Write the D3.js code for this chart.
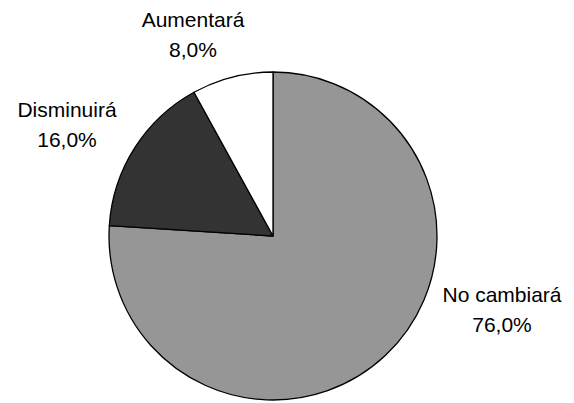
<!DOCTYPE html>
<html>
<head>
<meta charset="utf-8">
<script src="https://cdn.jsdelivr.net/npm/d3@7"></script>
<style>
    body { margin: 0; background: #fff; }
    text { font-family: "Liberation Sans", Arial, sans-serif; font-size: 21px; fill: #000; }
</style>
</head>
<body>
<div id="chart"></div>
<script>
// Chart data
const categories = ["No cambiará", "Disminuirá", "Aumentará"];
const values = [76.0, 16.0, 8.0];
const sliceColors = ["#969696", "#333333", "#ffffff"];
// Label anchor: centre x and baseline of the first line
const labelPos = [[502, 302], [67, 117], [193, 27]];

const width = 574, height = 403;
const cx = 273, cy = 236, radius = 164;
const lineGap = 30;

const svg = d3.select('#chart').append('svg')
    .attr('width', width)
    .attr('height', height);

const pie = d3.pie().sort(null).value(d => d.value);
const arc = d3.arc().innerRadius(0).outerRadius(radius);

const data = categories.map((c, i) => ({ name: c, value: values[i], color: sliceColors[i], pos: labelPos[i] }));

const g = svg.append('g').attr('transform', `translate(${cx},${cy})`);

g.selectAll('path')
    .data(pie(data))
    .enter()
    .append('path')
    .attr('d', arc)
    .attr('fill', d => d.data.color)
    .attr('stroke', '#000')
    .attr('stroke-width', 1.3)
    .attr('stroke-linejoin', 'round');

// Labels: name on first line, percentage below
const fmt = v => v.toFixed(1).replace('.', ',') + '%';

const labels = svg.selectAll('text.lbl')
    .data(data)
    .enter()
    .append('text')
    .attr('class', 'lbl')
    .attr('text-anchor', 'middle');

labels.append('tspan')
    .attr('x', d => d.pos[0])
    .attr('y', d => d.pos[1])
    .text(d => d.name);

labels.append('tspan')
    .attr('x', d => d.pos[0])
    .attr('y', d => d.pos[1] + lineGap)
    .text(d => fmt(d.value));
</script>
</body>
</html>
